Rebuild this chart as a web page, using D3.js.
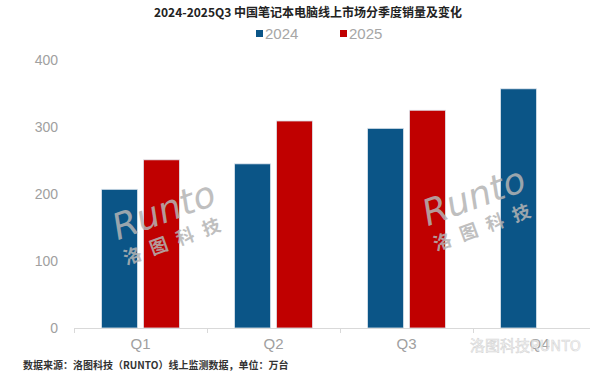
<!DOCTYPE html>
<html>
<head>
<meta charset="utf-8">
<script src="https://cdn.jsdelivr.net/npm/d3@7"></script>
<style>
  body { margin: 0; background: #fff; }
  svg { display: block; font-family: "Liberation Sans", Arial, sans-serif; }
</style>
</head>
<body>
<div id="chart"></div>
<script>
// data
const quarters = ["Q1", "Q2", "Q3", "Q4"];
const years = ["2024", "2025"];
const sales2024 = [207, 245, 298, 357];
const sales2025 = [251, 309, 325, null];
const yTicks = [0, 100, 200, 300, 400];

const colors = { "2024": "#0b5587", "2025": "#c00000" };

const width = 600;
const height = 377;

const svg = d3.select("#chart")
  .append("svg")
  .attr("width", width)
  .attr("height", height);

// title
svg.append("text")
  .attr("x", 308)
  .attr("y", 17)
  .attr("text-anchor", "middle")
  .attr("font-family", "'Noto Sans CJK SC', sans-serif")
  .attr("font-weight", "bold")
  .attr("font-size", 12)
  .attr("fill", "#222")
  .text("2024-2025Q3 中国笔记本电脑线上市场分季度销量及变化");

// legend
const legend = svg.append("g");
const legendX = { "2024": 256, "2025": 340 };
years.forEach(yr => {
  legend.append("rect")
    .attr("x", legendX[yr])
    .attr("y", 30)
    .attr("width", 7)
    .attr("height", 7)
    .attr("fill", colors[yr]);
  legend.append("text")
    .attr("x", legendX[yr] + 9)
    .attr("y", 39)
    .attr("font-size", 15)
    .attr("fill", "#a6a6a6")
    .text(yr);
});

// scales
const x0 = d3.scaleBand().domain(quarters).range([74, 606]);
const x1 = d3.scaleBand().domain(years).range([27.5, 105.5]).paddingInner(0.14);
const y = d3.scaleLinear().domain([0, 400]).range([328, 60]);

// y axis
const yAxis = d3.axisLeft(y).tickValues(yTicks).tickSize(0).tickPadding(0);
svg.append("g")
  .attr("transform", "translate(58,0)")
  .call(yAxis)
  .call(g => g.select(".domain").remove())
  .call(g => g.selectAll("text")
    .attr("font-size", 14)
    .attr("fill", "#a0a0a0")
    .attr("font-family", "'Liberation Sans', Arial, sans-serif"));

// bars
const rows = quarters.map((q, i) => ({ q, vals: [
  { yr: "2024", v: sales2024[i] },
  { yr: "2025", v: sales2025[i] }
].filter(d => d.v != null) }));

const groups = svg.selectAll(".grp")
  .data(rows)
  .enter()
  .append("g")
  .attr("class", "grp")
  .attr("transform", d => "translate(" + x0(d.q) + ",0)");

groups.selectAll("rect")
  .data(d => d.vals)
  .enter()
  .append("rect")
  .attr("x", d => x1(d.yr))
  .attr("y", d => y(d.v))
  .attr("width", x1.bandwidth())
  .attr("height", d => y(0) - y(d.v))
  .attr("fill", d => colors[d.yr])
  .attr("stroke", "#dfe6ee")
  .attr("stroke-width", 0.8);

// x axis
const xAxis = d3.axisBottom(x0).tickSize(0).tickPadding(10);
svg.append("g")
  .attr("transform", "translate(0," + y(0) + ")")
  .call(xAxis)
  .call(g => g.select(".domain").remove())
  .call(g => g.selectAll("text")
    .attr("font-size", 15)
    .attr("fill", "#a0a0a0")
    .attr("font-family", "'Liberation Sans', Arial, sans-serif"));

svg.append("line")
  .attr("x1", x0.range()[0])
  .attr("x2", 590)
  .attr("y1", y(0) + 0.5)
  .attr("y2", y(0) + 0.5)
  .attr("stroke", "#d9d9d9");

svg.selectAll(".sep")
  .data(quarters)
  .enter()
  .append("line")
  .attr("class", "sep")
  .attr("x1", d => x0(d) + 0.5)
  .attr("x2", d => x0(d) + 0.5)
  .attr("y1", y(0))
  .attr("y2", y(0) + 5)
  .attr("stroke", "#d9d9d9");

// watermarks
function runtoMark(cx, cy) {
  const g = svg.append("g")
    .attr("transform", "translate(" + cx + "," + cy + ") rotate(-20)")
    .attr("fill", "#b4b4b4")
    .attr("opacity", 0.85);
  g.append("text")
    .attr("x", 0)
    .attr("y", 0)
    .attr("text-anchor", "middle")
    .attr("font-size", 36)
    .attr("font-style", "italic")
    .attr("font-family", "'DejaVu Sans', sans-serif")
    .attr("font-weight", "300")
    .text("Runto");
  g.append("text")
    .attr("x", 2)
    .attr("y", 26)
    .attr("text-anchor", "middle")
    .attr("font-size", 18)
    .attr("font-weight", "bold")
    .attr("letter-spacing", 10)
    .attr("font-family", "'Noto Sans CJK SC', sans-serif")
    .text("洛图科技");
}
runtoMark(168, 222);
runtoMark(478, 208);

svg.append("text")
  .attr("x", 470)
  .attr("y", 351)
  .attr("font-size", 15)
  .attr("font-family", "'Noto Sans CJK SC', sans-serif")
  .attr("fill", "#f2f2f2")
  .attr("fill-opacity", 0.6)
  .attr("stroke", "#d6d6d6")
  .attr("stroke-width", 0.6)
  .text("洛图科技RUNTO");

// footer
svg.append("text")
  .attr("x", 23)
  .attr("y", 369)
  .attr("font-size", 10)
  .attr("font-weight", "bold")
  .attr("font-family", "'Noto Sans CJK SC', sans-serif")
  .attr("fill", "#333")
  .text("数据来源：洛图科技（RUNTO）线上监测数据，单位：万台");
</script>
</body>
</html>
